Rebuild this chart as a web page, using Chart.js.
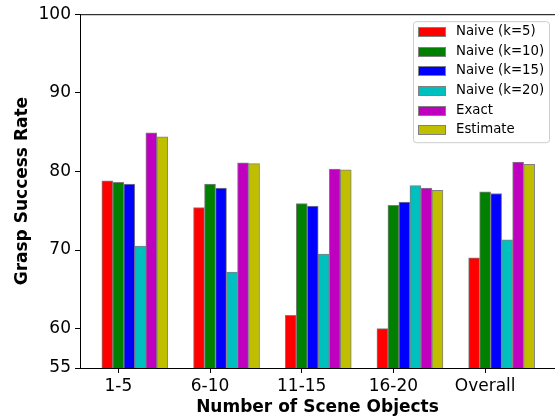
<!DOCTYPE html>
<html>
<head>
<meta charset="utf-8">
<script src="https://cdn.jsdelivr.net/npm/chart.js@4.4.1/dist/chart.umd.min.js"></script>
<style>
  html, body { margin: 0; padding: 0; background: #fff; }
</style>
</head>
<body>
<canvas id="graspChart" width="555" height="416"></canvas>
<script>
// categories and values
const categories = ["1-5", "6-10", "11-15", "16-20", "Overall"];
const seriesNames = ["Naive (k=5)", "Naive (k=10)", "Naive (k=15)", "Naive (k=20)", "Exact", "Estimate"];
const naiveK5 = [78.8, 75.4, 61.7, 60.0, 69.0];
const naiveK10 = [78.6, 78.4, 75.9, 75.7, 77.4];
const naiveK15 = [78.4, 77.9, 75.6, 76.1, 77.2];
const naiveK20 = [70.5, 67.2, 69.5, 78.2, 71.3];
const exact = [84.9, 81.1, 80.3, 77.9, 81.2];
const estimate = [84.4, 81.0, 80.2, 77.6, 80.9];
const yTicks = [55, 60, 70, 80, 90, 100];

const seriesValues = [naiveK5, naiveK10, naiveK15, naiveK20, exact, estimate];
const colors = ["#ff0000", "#008000", "#0000ff", "#00bfbf", "#bf00bf", "#bfbf00"];
const barW = 0.12; // bar offset inside a group, in category units
const FONT = "DejaVu Sans";

const datasets = seriesValues.map((vals, j) => ({
    label: seriesNames[j],
    data: vals.map((v, i) => ({ x: i + (j - 1) * barW, y: v })),
    backgroundColor: colors[j],
    borderColor: "#808080",
    borderWidth: 1,
    barThickness: 11,
    grouped: false,
}));

// top spine + legend box drawn by hand, matplotlib style
const frameAndLegend = {
    id: "frameAndLegend",
    afterDraw(chart) {
        const ctx = chart.ctx;
        const area = chart.chartArea;
        ctx.save();
        ctx.strokeStyle = "#000";
        ctx.lineWidth = 1;
        ctx.beginPath();
        ctx.moveTo(area.left, area.top + 0.5);
        ctx.lineTo(area.right, area.top + 0.5);
        ctx.stroke();

        const boxW = 136, boxH = 121;
        const x0 = area.right - 6 - boxW;
        const y0 = area.top + 7;
        ctx.beginPath();
        ctx.roundRect(x0 + 0.5, y0 + 0.5, boxW, boxH, 3);
        ctx.fillStyle = "rgba(255,255,255,0.8)";
        ctx.fill();
        ctx.strokeStyle = "#cccccc";
        ctx.stroke();

        ctx.font = "13.3px '" + FONT + "'";
        ctx.textBaseline = "middle";
        chart.data.datasets.forEach((ds, k) => {
            const cy = Math.round(y0 + 11 + k * 19.6);
            ctx.fillStyle = ds.backgroundColor;
            ctx.fillRect(x0 + 5, cy - 5, 28, 10);
            ctx.strokeStyle = ds.borderColor;
            ctx.strokeRect(x0 + 5.5, cy - 4.5, 27, 9);
            ctx.fillStyle = "#000";
            ctx.fillText(ds.label, x0 + 43, cy);
        });
        ctx.restore();
    }
};

new Chart(document.getElementById("graspChart"), {
    type: "bar",
    data: { datasets: datasets },
    options: {
        responsive: false,
        animation: false,
        layout: { padding: { top: 13, left: 0, right: 0, bottom: 0 } },
        plugins: {
            legend: { display: false },
            tooltip: { enabled: false },
        },
        scales: {
            x: {
                type: "linear",
                min: -0.418,
                max: 4.762,
                offset: false,
                grid: { display: true, offset: false, drawOnChartArea: false, drawTicks: true, tickLength: 5, color: "#000" },
                border: { display: true, color: "#000", width: 1 },
                ticks: {
                    autoSkip: false,
                    maxRotation: 0,
                    padding: 3,
                    color: "#000",
                    font: { family: FONT, size: 17 },
                    callback: (v) => categories[v] ?? "",
                },
                afterBuildTicks: (s) => { s.ticks = categories.map((c, i) => ({ value: i })); },
                afterFit: (s) => { s.height = 48; },
                title: {
                    display: true,
                    text: "Number of Scene Objects",
                    color: "#000",
                    font: { family: FONT, size: 17, weight: "bold" },
                    padding: { top: 0, bottom: -2 },
                },
            },
            y: {
                min: 55,
                max: 100,
                grid: { display: true, drawOnChartArea: false, drawTicks: true, tickLength: 5, color: "#000" },
                border: { display: true, color: "#000", width: 1 },
                ticks: {
                    padding: 4,
                    color: "#000",
                    font: { family: FONT, size: 17 },
                },
                afterBuildTicks: (s) => { s.ticks = yTicks.map((v) => ({ value: v })); },
                afterFit: (s) => { s.width = 80; },
                title: {
                    display: true,
                    text: "Grasp Success Rate",
                    color: "#000",
                    font: { family: FONT, size: 17, weight: "bold" },
                    padding: { top: 12, bottom: 0 },
                },
            },
        },
    },
    plugins: [frameAndLegend],
});
</script>
</body>
</html>
